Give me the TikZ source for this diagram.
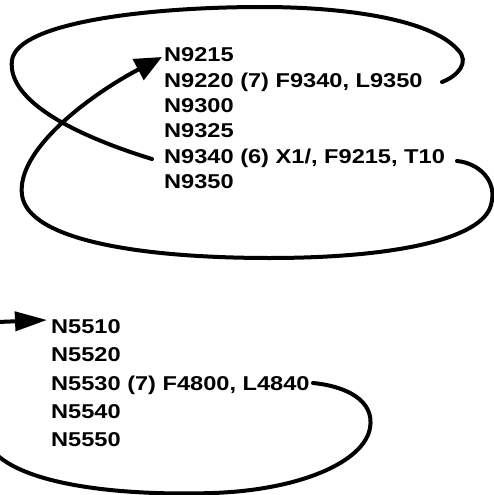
\documentclass[tikz,border=0pt]{standalone}
\usepackage{fontspec}
\setmainfont{Liberation Sans}[FakeStretch=1.18]
\usetikzlibrary{arrows.meta}
\begin{document}
\begin{tikzpicture}[x=1pt,y=-1pt,
  lbl/.style={anchor=base west, inner sep=0pt, font=\fontsize{20}{24}\selectfont\bfseries},
  curve/.style={line width=4pt, line cap=round},
  bighead/.style={-{Triangle[length=27pt,width=23pt]}}]
\useasboundingbox (0,0) rectangle (493,495);
% top listing
\node[lbl] (t1) at (164,62) {N9215};
\node[lbl] (t2) at (164,87.3) {N9220 (7) F9340, L9350};
\node[lbl] (t3) at (164,112.6) {N9300};
\node[lbl] (t4) at (164,137.9) {N9325};
\node[lbl] (t5) at (164,163.2) {N9340 (6) X1/, F9215, T10};
\node[lbl] (t6) at (164,188.5) {N9350};
% bottom listing
\node[lbl] (b1) at (51,333.3) {N5510};
\node[lbl] (b2) at (51,361.6) {N5520};
\node[lbl] (b3) at (51,390) {N5530 (7) F4800, L4840};
\node[lbl] (b4) at (51,418.3) {N5540};
\node[lbl] (b5) at (51,446.7) {N5550};
% free ends
\coordinate (sA) at (442,82);
\coordinate (eA) at (152,159);
\coordinate (sB) at (457,161);
\coordinate (tB) at (162,57);
\coordinate (aS) at (-2,322);
\coordinate (aT) at (47,320);
\coordinate (sC) at (313,383);
\coordinate (eC) at (-3,455);
% loop from N9220 to N9340
\draw[curve] (sA) .. controls (458,76) and (470,62) .. (458,50)
  .. controls (430,18) and (340,7) .. (262,7)
  .. controls (150,7) and (18,22) .. (12,60)
  .. controls (6,105) and (90,140) .. (eA);
% loop from N9340 back to N9215
\draw[curve,bighead] (sB) .. controls (478,163) and (498,180) .. (491,205)
  .. controls (482,240) and (390,258) .. (270,258)
  .. controls (140,258) and (28,240) .. (22,195)
  .. controls (16,150) and (90,95) .. (tB);
% bottom arrow
\draw[line width=4pt,-{Triangle[length=32pt,width=19pt]}] (aS) -- (aT);
% bottom loop
\draw[curve] (sC) .. controls (345,386) and (375,400) .. (370,428)
  .. controls (364,462) and (300,490) .. (213,493)
  .. controls (120,496) and (30,485) .. (eC);
\end{tikzpicture}
\end{document}
